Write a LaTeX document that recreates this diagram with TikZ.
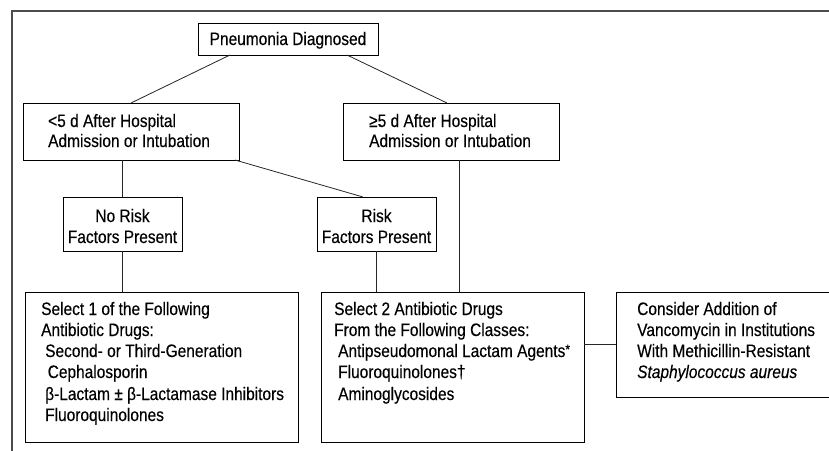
\documentclass[tikz,border=0pt]{standalone}
\usepackage{fontspec}
\setmainfont[FakeStretch=0.86,FakeBold=0.3]{Liberation Sans}
\begin{document}
\begin{tikzpicture}[x=1pt,y=-1pt,
  box/.style={draw=black,line width=0.8pt,inner sep=0pt,outer sep=0pt,rectangle},
  tl/.style={anchor=base west,inner sep=0pt,font=\fontsize{18}{20}\selectfont},
  tc/.style={anchor=base,inner sep=0pt,font=\fontsize{18}{20}\selectfont},
  link/.style={draw=black!85,line width=0.8pt},
  frame/.style={draw=black!70,line width=1.3pt}]
\useasboundingbox (0,0) rectangle (829,450);
\clip (0,0) rectangle (829,450);
% outer frame (only top and left sides visible)
\draw[frame] (12,470) -- (12,11) -- (850,11);
% boxes
\node[box,minimum width=180pt,minimum height=32pt,anchor=north west] (pn) at (198,23) {};
\node[tc] (pnt) at (288,45) {Pneumonia Diagnosed};
\node[box,minimum width=216pt,minimum height=57pt,anchor=north west] (lt) at (23,103) {};
\node[box,minimum width=216pt,minimum height=57pt,anchor=north west] (ge) at (343,103) {};
\node[box,minimum width=119pt,minimum height=54pt,anchor=north west] (nr) at (63,197) {};
\node[box,minimum width=119pt,minimum height=54pt,anchor=north west] (rk) at (317,197) {};
\node[box,minimum width=273pt,minimum height=150pt,anchor=north west] (s1) at (25,292) {};
\node[box,minimum width=263pt,minimum height=150pt,anchor=north west] (s2) at (321,292) {};
\node[box,minimum width=230pt,minimum height=105pt,anchor=north west] (cv) at (616,292) {};
% texts
\node[tl] (lt1) at (48,127) {<5 d After Hospital};
\node[tl] (lt2) at (48,147) {Admission or Intubation};
\node[tl] (ge1) at (369,127) {≥5 d After Hospital};
\node[tl] (ge2) at (369,147) {Admission or Intubation};
\node[tc] (nr1) at (122.5,222) {No Risk};
\node[tc] (nr2) at (122.5,243) {Factors Present};
\node[tc] (rk1) at (376.5,222) {Risk};
\node[tc] (rk2) at (376.5,243) {Factors Present};
\node[tl] (s1a) at (41,315) {Select 1 of the Following};
\node[tl] (s1b) at (41,336) {Antibiotic Drugs:};
\node[tl] (s1c) at (45,357) {Second- or Third-Generation};
\node[tl] (s1d) at (47.5,378) {Cephalosporin};
\node[tl] (s1e) at (45,400) {β-Lactam ± β-Lactamase Inhibitors};
\node[tl] (s1f) at (45,421) {Fluoroquinolones};
\node[tl] (s2a) at (334,315) {Select 2 Antibiotic Drugs};
\node[tl] (s2b) at (334,336) {From the Following Classes:};
\node[tl] (s2c) at (338,357) {Antipseudomonal Lactam Agents\raisebox{0.3ex}{\fontsize{14}{14}\selectfont *}};
\node[tl] (s2d) at (338,378) {Fluoroquinolones†};
\node[tl] (s2e) at (338,400) {Aminoglycosides};
\node[tl] (cv1) at (637,315) {Consider Addition of};
\node[tl] (cv2) at (637,336) {Vancomycin in Institutions};
\node[tl] (cv3) at (637,357) {With Methicillin-Resistant};
\node[tl] (cv4) at (637,378) {\itshape Staphylococcus aureus};
% connectors
\coordinate (gx) at ([xshift=8pt]ge.south);
\draw[link] ([xshift=32pt]pn.south west) -- (lt.north);
\draw[link] ([xshift=-31pt]pn.south east) -- ([xshift=-4pt]ge.north);
\draw[link] (nr.north) -- (nr.north |- lt.south);
\draw[link] ([xshift=-4pt]lt.south east) -- ([xshift=46pt]rk.north west);
\draw[link] (nr.south) -- (nr.south |- s1.north);
\draw[link] (rk.south) -- (rk.south |- s2.north);
\draw[link] (gx) -- (gx |- s2.north);
\draw[link] (cv.west) -- (cv.west -| s2.east);
\end{tikzpicture}
\end{document}
